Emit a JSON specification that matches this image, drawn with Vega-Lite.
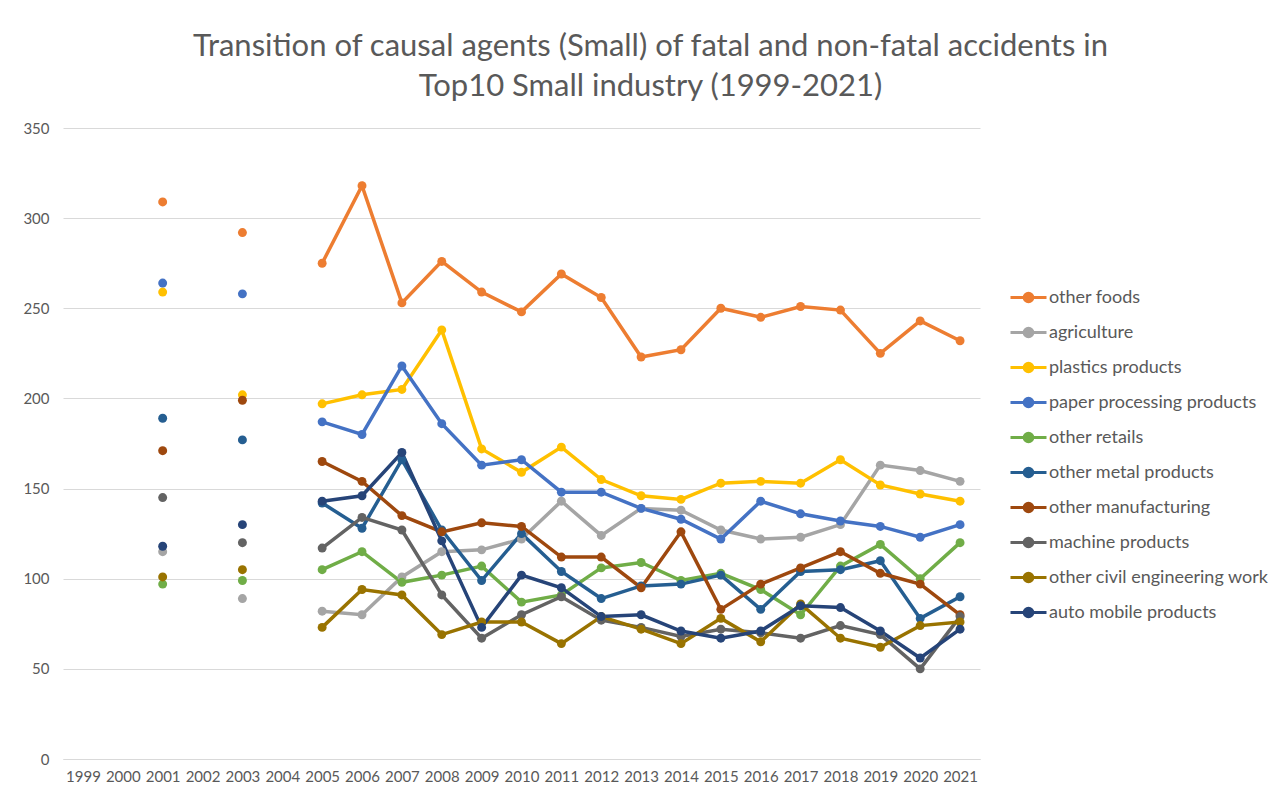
{
  "$schema": "https://vega.github.io/schema/vega-lite/v6.json",
  "width": 917,
  "height": 631,
  "autosize": {"type": "none"},
  "padding": {"left": 63, "top": 128, "right": 294, "bottom": 38},
  "background": "white",
  "title": {
    "text": ["Transition of causal agents (Small) of fatal and non-fatal accidents in", "Top10 Small industry (1999-2021)"],
    "font": "Lato",
    "fontSize": 31,
    "fontWeight": "normal",
    "color": "#595959",
    "anchor": "middle",
    "frame": "group",
    "dx": 129,
    "offset": 18,
    "lineHeight": 40
  },
  "config": {
    "view": {"stroke": null},
    "font": "Lato",
    "axis": {
      "labelFont": "Lato",
      "labelColor": "#595959",
      "labelFontSize": 15,
      "gridColor": "#D9D9D9",
      "gridWidth": 1,
      "ticks": false,
      "title": null
    }
  },
  "data": {
    "values": [
      {"year": 2001, "industry": "other foods", "value": 309},
      {"year": 2003, "industry": "other foods", "value": 292},
      {"year": 2005, "industry": "other foods", "value": 275},
      {"year": 2006, "industry": "other foods", "value": 318},
      {"year": 2007, "industry": "other foods", "value": 253},
      {"year": 2008, "industry": "other foods", "value": 276},
      {"year": 2009, "industry": "other foods", "value": 259},
      {"year": 2010, "industry": "other foods", "value": 248},
      {"year": 2011, "industry": "other foods", "value": 269},
      {"year": 2012, "industry": "other foods", "value": 256},
      {"year": 2013, "industry": "other foods", "value": 223},
      {"year": 2014, "industry": "other foods", "value": 227},
      {"year": 2015, "industry": "other foods", "value": 250},
      {"year": 2016, "industry": "other foods", "value": 245},
      {"year": 2017, "industry": "other foods", "value": 251},
      {"year": 2018, "industry": "other foods", "value": 249},
      {"year": 2019, "industry": "other foods", "value": 225},
      {"year": 2020, "industry": "other foods", "value": 243},
      {"year": 2021, "industry": "other foods", "value": 232},

      {"year": 2001, "industry": "agriculture", "value": 115},
      {"year": 2003, "industry": "agriculture", "value": 89},
      {"year": 2005, "industry": "agriculture", "value": 82},
      {"year": 2006, "industry": "agriculture", "value": 80},
      {"year": 2007, "industry": "agriculture", "value": 101},
      {"year": 2008, "industry": "agriculture", "value": 115},
      {"year": 2009, "industry": "agriculture", "value": 116},
      {"year": 2010, "industry": "agriculture", "value": 122},
      {"year": 2011, "industry": "agriculture", "value": 143},
      {"year": 2012, "industry": "agriculture", "value": 124},
      {"year": 2013, "industry": "agriculture", "value": 139},
      {"year": 2014, "industry": "agriculture", "value": 138},
      {"year": 2015, "industry": "agriculture", "value": 127},
      {"year": 2016, "industry": "agriculture", "value": 122},
      {"year": 2017, "industry": "agriculture", "value": 123},
      {"year": 2018, "industry": "agriculture", "value": 130},
      {"year": 2019, "industry": "agriculture", "value": 163},
      {"year": 2020, "industry": "agriculture", "value": 160},
      {"year": 2021, "industry": "agriculture", "value": 154},

      {"year": 2001, "industry": "plastics products", "value": 259},
      {"year": 2003, "industry": "plastics products", "value": 202},
      {"year": 2005, "industry": "plastics products", "value": 197},
      {"year": 2006, "industry": "plastics products", "value": 202},
      {"year": 2007, "industry": "plastics products", "value": 205},
      {"year": 2008, "industry": "plastics products", "value": 238},
      {"year": 2009, "industry": "plastics products", "value": 172},
      {"year": 2010, "industry": "plastics products", "value": 159},
      {"year": 2011, "industry": "plastics products", "value": 173},
      {"year": 2012, "industry": "plastics products", "value": 155},
      {"year": 2013, "industry": "plastics products", "value": 146},
      {"year": 2014, "industry": "plastics products", "value": 144},
      {"year": 2015, "industry": "plastics products", "value": 153},
      {"year": 2016, "industry": "plastics products", "value": 154},
      {"year": 2017, "industry": "plastics products", "value": 153},
      {"year": 2018, "industry": "plastics products", "value": 166},
      {"year": 2019, "industry": "plastics products", "value": 152},
      {"year": 2020, "industry": "plastics products", "value": 147},
      {"year": 2021, "industry": "plastics products", "value": 143},

      {"year": 2001, "industry": "paper processing products", "value": 264},
      {"year": 2003, "industry": "paper processing products", "value": 258},
      {"year": 2005, "industry": "paper processing products", "value": 187},
      {"year": 2006, "industry": "paper processing products", "value": 180},
      {"year": 2007, "industry": "paper processing products", "value": 218},
      {"year": 2008, "industry": "paper processing products", "value": 186},
      {"year": 2009, "industry": "paper processing products", "value": 163},
      {"year": 2010, "industry": "paper processing products", "value": 166},
      {"year": 2011, "industry": "paper processing products", "value": 148},
      {"year": 2012, "industry": "paper processing products", "value": 148},
      {"year": 2013, "industry": "paper processing products", "value": 139},
      {"year": 2014, "industry": "paper processing products", "value": 133},
      {"year": 2015, "industry": "paper processing products", "value": 122},
      {"year": 2016, "industry": "paper processing products", "value": 143},
      {"year": 2017, "industry": "paper processing products", "value": 136},
      {"year": 2018, "industry": "paper processing products", "value": 132},
      {"year": 2019, "industry": "paper processing products", "value": 129},
      {"year": 2020, "industry": "paper processing products", "value": 123},
      {"year": 2021, "industry": "paper processing products", "value": 130},

      {"year": 2001, "industry": "other retails", "value": 97},
      {"year": 2003, "industry": "other retails", "value": 99},
      {"year": 2005, "industry": "other retails", "value": 105},
      {"year": 2006, "industry": "other retails", "value": 115},
      {"year": 2007, "industry": "other retails", "value": 98},
      {"year": 2008, "industry": "other retails", "value": 102},
      {"year": 2009, "industry": "other retails", "value": 107},
      {"year": 2010, "industry": "other retails", "value": 87},
      {"year": 2011, "industry": "other retails", "value": 91},
      {"year": 2012, "industry": "other retails", "value": 106},
      {"year": 2013, "industry": "other retails", "value": 109},
      {"year": 2014, "industry": "other retails", "value": 99},
      {"year": 2015, "industry": "other retails", "value": 103},
      {"year": 2016, "industry": "other retails", "value": 94},
      {"year": 2017, "industry": "other retails", "value": 80},
      {"year": 2018, "industry": "other retails", "value": 107},
      {"year": 2019, "industry": "other retails", "value": 119},
      {"year": 2020, "industry": "other retails", "value": 100},
      {"year": 2021, "industry": "other retails", "value": 120},

      {"year": 2001, "industry": "other metal products", "value": 189},
      {"year": 2003, "industry": "other metal products", "value": 177},
      {"year": 2005, "industry": "other metal products", "value": 142},
      {"year": 2006, "industry": "other metal products", "value": 128},
      {"year": 2007, "industry": "other metal products", "value": 166},
      {"year": 2008, "industry": "other metal products", "value": 127},
      {"year": 2009, "industry": "other metal products", "value": 99},
      {"year": 2010, "industry": "other metal products", "value": 125},
      {"year": 2011, "industry": "other metal products", "value": 104},
      {"year": 2012, "industry": "other metal products", "value": 89},
      {"year": 2013, "industry": "other metal products", "value": 96},
      {"year": 2014, "industry": "other metal products", "value": 97},
      {"year": 2015, "industry": "other metal products", "value": 102},
      {"year": 2016, "industry": "other metal products", "value": 83},
      {"year": 2017, "industry": "other metal products", "value": 104},
      {"year": 2018, "industry": "other metal products", "value": 105},
      {"year": 2019, "industry": "other metal products", "value": 110},
      {"year": 2020, "industry": "other metal products", "value": 78},
      {"year": 2021, "industry": "other metal products", "value": 90},

      {"year": 2001, "industry": "other manufacturing", "value": 171},
      {"year": 2003, "industry": "other manufacturing", "value": 199},
      {"year": 2005, "industry": "other manufacturing", "value": 165},
      {"year": 2006, "industry": "other manufacturing", "value": 154},
      {"year": 2007, "industry": "other manufacturing", "value": 135},
      {"year": 2008, "industry": "other manufacturing", "value": 126},
      {"year": 2009, "industry": "other manufacturing", "value": 131},
      {"year": 2010, "industry": "other manufacturing", "value": 129},
      {"year": 2011, "industry": "other manufacturing", "value": 112},
      {"year": 2012, "industry": "other manufacturing", "value": 112},
      {"year": 2013, "industry": "other manufacturing", "value": 95},
      {"year": 2014, "industry": "other manufacturing", "value": 126},
      {"year": 2015, "industry": "other manufacturing", "value": 83},
      {"year": 2016, "industry": "other manufacturing", "value": 97},
      {"year": 2017, "industry": "other manufacturing", "value": 106},
      {"year": 2018, "industry": "other manufacturing", "value": 115},
      {"year": 2019, "industry": "other manufacturing", "value": 103},
      {"year": 2020, "industry": "other manufacturing", "value": 97},
      {"year": 2021, "industry": "other manufacturing", "value": 80},

      {"year": 2001, "industry": "machine products", "value": 145},
      {"year": 2003, "industry": "machine products", "value": 120},
      {"year": 2005, "industry": "machine products", "value": 117},
      {"year": 2006, "industry": "machine products", "value": 134},
      {"year": 2007, "industry": "machine products", "value": 127},
      {"year": 2008, "industry": "machine products", "value": 91},
      {"year": 2009, "industry": "machine products", "value": 67},
      {"year": 2010, "industry": "machine products", "value": 80},
      {"year": 2011, "industry": "machine products", "value": 90},
      {"year": 2012, "industry": "machine products", "value": 77},
      {"year": 2013, "industry": "machine products", "value": 73},
      {"year": 2014, "industry": "machine products", "value": 68},
      {"year": 2015, "industry": "machine products", "value": 72},
      {"year": 2016, "industry": "machine products", "value": 70},
      {"year": 2017, "industry": "machine products", "value": 67},
      {"year": 2018, "industry": "machine products", "value": 74},
      {"year": 2019, "industry": "machine products", "value": 69},
      {"year": 2020, "industry": "machine products", "value": 50},
      {"year": 2021, "industry": "machine products", "value": 79},

      {"year": 2001, "industry": "other civil engineering work", "value": 101},
      {"year": 2003, "industry": "other civil engineering work", "value": 105},
      {"year": 2005, "industry": "other civil engineering work", "value": 73},
      {"year": 2006, "industry": "other civil engineering work", "value": 94},
      {"year": 2007, "industry": "other civil engineering work", "value": 91},
      {"year": 2008, "industry": "other civil engineering work", "value": 69},
      {"year": 2009, "industry": "other civil engineering work", "value": 76},
      {"year": 2010, "industry": "other civil engineering work", "value": 76},
      {"year": 2011, "industry": "other civil engineering work", "value": 64},
      {"year": 2012, "industry": "other civil engineering work", "value": 79},
      {"year": 2013, "industry": "other civil engineering work", "value": 72},
      {"year": 2014, "industry": "other civil engineering work", "value": 64},
      {"year": 2015, "industry": "other civil engineering work", "value": 78},
      {"year": 2016, "industry": "other civil engineering work", "value": 65},
      {"year": 2017, "industry": "other civil engineering work", "value": 86},
      {"year": 2018, "industry": "other civil engineering work", "value": 67},
      {"year": 2019, "industry": "other civil engineering work", "value": 62},
      {"year": 2020, "industry": "other civil engineering work", "value": 74},
      {"year": 2021, "industry": "other civil engineering work", "value": 76},

      {"year": 2001, "industry": "auto mobile products", "value": 118},
      {"year": 2003, "industry": "auto mobile products", "value": 130},
      {"year": 2005, "industry": "auto mobile products", "value": 143},
      {"year": 2006, "industry": "auto mobile products", "value": 146},
      {"year": 2007, "industry": "auto mobile products", "value": 170},
      {"year": 2008, "industry": "auto mobile products", "value": 121},
      {"year": 2009, "industry": "auto mobile products", "value": 73},
      {"year": 2010, "industry": "auto mobile products", "value": 102},
      {"year": 2011, "industry": "auto mobile products", "value": 95},
      {"year": 2012, "industry": "auto mobile products", "value": 79},
      {"year": 2013, "industry": "auto mobile products", "value": 80},
      {"year": 2014, "industry": "auto mobile products", "value": 71},
      {"year": 2015, "industry": "auto mobile products", "value": 67},
      {"year": 2016, "industry": "auto mobile products", "value": 71},
      {"year": 2017, "industry": "auto mobile products", "value": 85},
      {"year": 2018, "industry": "auto mobile products", "value": 84},
      {"year": 2019, "industry": "auto mobile products", "value": 71},
      {"year": 2020, "industry": "auto mobile products", "value": 56},
      {"year": 2021, "industry": "auto mobile products", "value": 72}
    ]
  },
  "encoding": {
    "x": {
      "field": "year",
      "type": "ordinal",
      "scale": {"domain": [1999, 2000, 2001, 2002, 2003, 2004, 2005, 2006, 2007, 2008, 2009, 2010, 2011, 2012, 2013, 2014, 2015, 2016, 2017, 2018, 2019, 2020, 2021], "padding": 0.5},
      "axis": {"labelAngle": 0, "grid": false, "domain": true, "domainColor": "#D9D9D9", "domainWidth": 1, "labelPadding": 10, "labelFontSize": 15, "labelFont": "Lato", "labelColor": "#595959"}
    },
    "y": {
      "field": "value",
      "type": "quantitative",
      "scale": {"domain": [0, 350]},
      "axis": {"values": [0, 50, 100, 150, 200, 250, 300, 350], "domain": false, "grid": true, "labelPadding": 14, "labelFontSize": 15, "labelFont": "Lato", "labelColor": "#595959"}
    },
    "color": {
      "field": "industry",
      "type": "nominal",
      "scale": {
        "domain": ["other foods", "agriculture", "plastics products", "paper processing products", "other retails", "other metal products", "other manufacturing", "machine products", "other civil engineering work", "auto mobile products"],
        "range": ["#ED7D31", "#A5A5A5", "#FFC000", "#4472C4", "#70AD47", "#255E91", "#9E480E", "#636363", "#997300", "#264478"]
      },
      "legend": {
        "title": null,
        "orient": "none",
        "legendX": 954,
        "legendY": 158,
        "padding": 0,
        "symbolType": "M-1.8,0H1.8M0.43,0A0.43,0.43,0,1,1,-0.43,0A0.43,0.43,0,1,1,0.43,0Z",
        "symbolSize": 400,
        "symbolStrokeWidth": 3,
        "labelFont": "Lato",
        "labelFontSize": 18,
        "labelColor": "#595959",
        "labelOffset": 9,
        "rowPadding": 13,
        "labelLimit": 400,
        "encode": {
          "symbols": {
            "update": {
              "fill": {"scale": "color", "field": "value"},
              "stroke": {"scale": "color", "field": "value"},
              "strokeWidth": {"value": 3},
              "opacity": {"value": 1}
            }
          }
        }
      }
    }
  },
  "layer": [
    {
      "transform": [{"filter": "datum.year >= 2005"}],
      "mark": {"type": "line", "strokeWidth": 3.5}
    },
    {
      "mark": {"type": "circle", "size": 80, "opacity": 1}
    }
  ]
}
